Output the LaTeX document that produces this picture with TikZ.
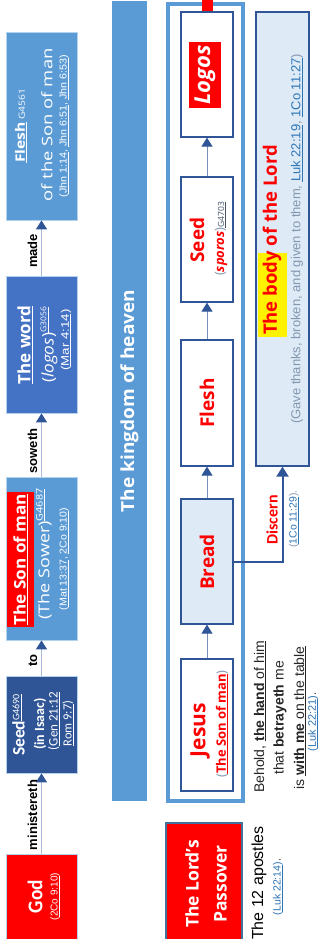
\documentclass[tikz,border=0pt]{standalone}
\usepackage{fontspec}
\setmainfont{Open Sans}
\newfontfamily\cb{Carlito}
\newfontfamily\ar{Liberation Sans}
\usetikzlibrary{arrows.meta}
\newcommand\fsz[1]{\fontsize{#1}{#1}\selectfont}
\newcommand\ul[1]{\underline{#1}}
\definecolor{mblue}{HTML}{5B9BD5}
\definecolor{wblue}{HTML}{4472C4}
\definecolor{dblue}{HTML}{2F5597}
\definecolor{lblue}{HTML}{DEEBF7}
\definecolor{aline}{HTML}{A9B9DA}
\definecolor{fline}{HTML}{7A8FBF}
\definecolor{gblue}{HTML}{8497B0}
\definecolor{link}{HTML}{2E75B6}
\definecolor{dtext}{HTML}{44546A}
\definecolor{btext}{HTML}{262626}
\definecolor{pborder}{HTML}{41719C}
\begin{document}
\begin{tikzpicture}[x=1pt,y=-1pt,
  lbox/.style={rectangle, inner sep=0pt, draw=mblue!45!white, line width=0.8pt},
  fbox/.style={rectangle, inner sep=0pt, draw=dblue, line width=1.3pt, fill=white},
  tx/.style={rotate=90, inner sep=0pt, align=center},
  larrow/.style={draw=aline, line width=1.3pt, -{Triangle[width=11pt,length=9pt,color=dblue]}},
  farrow/.style={draw=fline, line width=1pt, -{Triangle[width=11pt,length=9pt,color=dblue]}},
  darrow/.style={draw=dblue, line width=2pt, -{Triangle[width=12pt,length=10pt]}}]
\useasboundingbox (0,0) rectangle (322,939);
\clip (0,0) rectangle (322,939);
\fill[white] (0,0) rectangle (322,939);

% ---- left column boxes
\node[lbox, fill=mblue, minimum width=71pt, minimum height=188pt] (fleshA) at (41.5,126) {};
\node[lbox, fill=wblue, minimum width=71pt, minimum height=137pt] (word) at (41.5,344.5) {};
\node[lbox, fill=mblue, minimum width=71pt, minimum height=163pt] (sonman) at (41.5,558.5) {};
\node[lbox, fill=dblue, minimum width=71pt, minimum height=97pt] (seedA) at (41.5,724.5) {};
\node[lbox, fill=red, minimum width=71pt, minimum height=92pt] (god) at (41.5,900) {};

\draw[larrow] (word.north) -- (fleshA.south);
\draw[larrow] (sonman.north) -- (word.south);
\draw[larrow] (seedA.north) -- (sonman.south);
\draw[larrow] (god.north) -- (seedA.south);

% ---- kingdom bar
\node[fill=mblue, inner sep=0pt, minimum width=35pt, minimum height=800pt] (kingdom) at (129.5,401) {};

% ---- frame and its boxes
\node[draw=mblue, line width=4pt, fill=white, inner sep=0pt, minimum width=75pt, minimum height=797pt] (frame) at (205.5,402.5) {};
\node[fbox, minimum width=52pt, minimum height=125pt] (logos) at (207,74.5) {};
\node[fbox, minimum width=52pt, minimum height=125pt] (seedB) at (207,239.5) {};
\node[fbox, minimum width=52pt, minimum height=126pt] (fleshB) at (207,403) {};
\node[fbox, fill=lblue, minimum width=52pt, minimum height=125pt] (bread) at (207,561.5) {};
\node[fbox, minimum width=52pt, minimum height=132pt] (jesus) at (207,725) {};
\coordinate (logostop) at (206.5,-8);
\draw[red, line width=11pt] (logos.north) -- (logos.north |- logostop);

\draw[farrow] (jesus.north) -- (bread.south);
\draw[farrow] (bread.north) -- (fleshB.south);
\draw[farrow] (fleshB.north) -- (seedB.south);
\draw[farrow] (seedB.north) -- (logos.south);

% ---- body box
\node[rectangle, inner sep=0pt, draw=dblue, line width=1.3pt, fill=lblue, minimum width=53pt, minimum height=454pt] (body) at (282.5,239) {};
\draw[darrow] (bread.east) -| (body.south);

% ---- passover box
\node[rectangle, inner sep=0pt, draw=pborder, line width=1.5pt, fill=red, minimum width=76pt, minimum height=122pt] (passover) at (204,884) {};

% ---- highlights
\node[fill=red, inner sep=0pt, minimum width=27pt, minimum height=135pt] (sonhl) at (20.5,559.5) {};
\node[fill=red, inner sep=0pt, minimum width=32pt, minimum height=66pt] (logohl) at (205,75) {};
\node[fill=yellow, inner sep=0pt, minimum width=29pt, minimum height=84pt] (bodyhl) at (272.5,295) {};

% ---- texts left column
\node[tx, xscale=1.2, text=white] (fl1) at (21,126) {\fsz{13}\bfseries\ul{Flesh}\,{\mdseries\fsz{8.5}G4561}};
\node[tx, xscale=1.27, text=white] (fl2) at (47,125) {\fsz{14.5}of the Son of man};
\node[tx, xscale=1.07, text=white] (fl3) at (64,126) {\ar\fsz{10}(\ul{Jhn 1:14}, \ul{Jhn 6:51}, \ul{Jhn 6:53})};

\node[tx, text=white] (w1) at (25,345) {\fsz{17}\bfseries\ul{The word}};
\node[tx, xscale=1.07, text=white] (w2) at (49,345) {\fsz{16}(\textit{logos})\raisebox{0.45em}{\fsz{8}\ul{G3056}}};
\node[tx, xscale=1.2, text=white] (w3) at (66,340) {\ar\fsz{11}(\ul{Mar 4:14})};

\node[tx, xscale=1.07, text=white] (s1) at (sonhl.center) {\fsz{16}\bfseries\ul{The Son of man}};
\node[tx, xscale=1.2, text=white] (s2) at (44,554) {\fsz{15}(The Sower)\raisebox{0.45em}{\fsz{9}\ul{G4687}}};
\node[tx, xscale=1.05, text=white] (s3) at (64,559) {\ar\fsz{10}(\ul{Mat 13:37}, \ul{2Co 9:10})};

\node[tx, text=white] (sd1) at (18.5,725) {\cb\fsz{17.5}\bfseries Seed\raisebox{0.3em}{\mdseries\fsz{10}\ul{G4690}}};
\node[tx, text=white] (sd2) at (40,724) {\cb\fsz{14}\bfseries (in Isaac)};
\node[tx, text=white] (sd3) at (54,721) {\cb\fsz{13}(\ul{Gen 21:12}};
\node[tx, text=white] (sd4) at (68,723.5) {\cb\fsz{12.5}\ul{Rom 9:7})};

\node[tx, xscale=0.92, text=white] (g1) at (35,896.5) {\cb\fsz{21}\bfseries God};
\node[tx, text=white] (g2) at (55,896.5) {\ar\fsz{10}(\ul{2Co 9:10})};

\node[tx, anchor=south] (lmade) at (37.5,251) {\ar\fsz{13}\bfseries made};
\node[tx, anchor=south] (lsow) at (37.5,451) {\ar\fsz{13}\bfseries soweth};
\node[tx, anchor=south] (lto) at (37.5,660.5) {\ar\fsz{13}\bfseries to};
\node[tx, anchor=south] (lmin) at (37.5,815) {\ar\fsz{13}\bfseries ministereth};

\node[tx, xscale=1.06, text=white] (kt) at (kingdom.center) {\fsz{18}\bfseries The kingdom of heaven};

% ---- frame texts
\node[tx, text=white] (lg) at (logohl.center) {\fsz{22}\bfseries\itshape Logos};
\node[tx, text=red] (sb1) at (197,240) {\fsz{19}\bfseries Seed};
\node[tx] (sb2) at (221,239) {\fsz{13}\textcolor{gblue}{(}\textcolor{red}{\bfseries\itshape sporos}\textcolor{gblue}{)}\textcolor{dtext}{\fsz{8.5}\ul{G4703}}};
\node[tx, text=red] (fb) at (207,403) {\fsz{19}\bfseries Flesh};
\node[tx, text=red] (br) at (207,562) {\fsz{19}\bfseries Bread};
\node[tx, text=red] (j1) at (200,730) {\fsz{21}\bfseries Jesus};
\node[tx] (j2) at (222,724) {\fsz{13}\textcolor{gblue}{(}\textcolor{red}{\bfseries\ul{The Son of man}}\textcolor{gblue}{)}};

% ---- body texts
\node[tx, text=red] (b1) at (272,240) {\fsz{18.5}\bfseries The body of the Lord};
\node[tx, text=gblue] (b2) at (297,239) {\ar\fsz{13}(Gave thanks, broken, and given to them, \textcolor{link}{\ul{Luk 22:19}}, \textcolor{link}{\ul{1Co 11:27}})};

\node[tx, text=red] (dl) at (272,520) {\cb\fsz{16}\bfseries Discern};
\node[tx] (dr) at (294,519) {\ar\fsz{10.5}\textcolor{gblue}{(}\textcolor{link}{\ul{1Co 11:29}}\textcolor{gblue}{).}};

% ---- behold
\node[tx, text=btext] (bh1) at (260,717) {\ar\fsz{14}Behold, \ul{\textbf{the hand} of him}};
\node[tx, text=btext] (bh2) at (280,718) {\ar\fsz{14}that \textbf{betrayeth} me};
\node[tx, text=btext] (bh3) at (300,718) {\ar\fsz{14}is \ul{\textbf{with me} on the table}};
\node[tx, text=btext] (bh4) at (313,722) {\ar\fsz{11}\textcolor{link}{(\ul{Luk 22:21})}.};

% ---- passover texts
\node[tx, text=white, font=\fontsize{17.5}{28}\selectfont\bfseries] (pt) at (206,884) {The Lord’s\\Passover};
\node[tx, text=black] (ap1) at (259,883) {\ar\fsz{16}The 12 apostles};
\node[tx, text=black] (ap2) at (278,887) {\ar\fsz{10.5}\textcolor{link}{(\ul{Luk 22:14})}.};
\end{tikzpicture}
\end{document}
